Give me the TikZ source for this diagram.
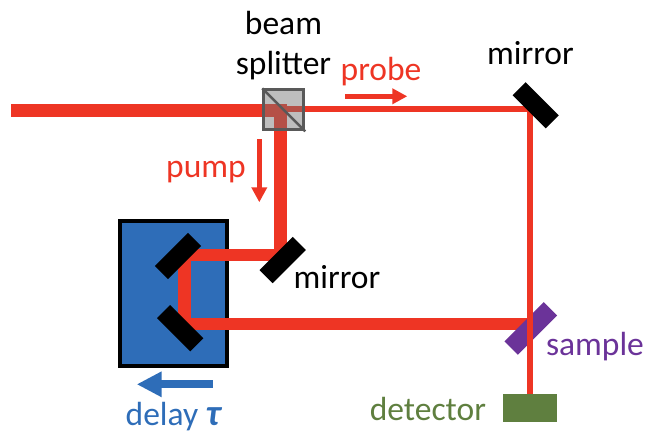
\documentclass[tikz,border=0pt]{standalone}
\usepackage{fontspec}
\setmainfont{Carlito}
\usetikzlibrary{arrows.meta,positioning}
\definecolor{beamred}{HTML}{EE3524}
\definecolor{stageblue}{HTML}{2E6DB8}
\definecolor{samplepurple}{HTML}{6B3399}
\definecolor{detgreen}{HTML}{5F7F3F}
\definecolor{cubegray}{HTML}{727272}
\definecolor{cubeedge}{HTML}{595959}
\tikzset{
  mirrorbox/.style={
    rectangle, fill=#1, inner sep=0pt,
    minimum width=47pt, minimum height=18.5pt
  },
  mirrorbox/.default=black,
  thickbeam/.style={draw=beamred, line width=12.5pt, line join=miter},
  thinbeam/.style={draw=beamred, line width=5.3pt, line join=miter},
  flowarrow/.style={
    -{Triangle[length=15pt,width=15pt]}, line width=4.8pt, color=#1
  },
  flowarrow/.default=beamred,
  labelnode/.style={font=\fontsize{33.5}{40}\selectfont, anchor=base, inner sep=0pt, color=#1},
  labelnode/.default=black,
}
\begin{document}
\begin{tikzpicture}[x=1pt,y=-1pt]
  \useasboundingbox (0,0) rectangle (646,433);

  % Delay stage
  \node[rectangle, draw=black, fill=stageblue, line width=4pt, minimum width=107pt,
        minimum height=145pt, inner sep=0pt] (stage) at (173.8,293.6) {};

  % Beam corners
  \coordinate (laser) at (11,110.5);
  \coordinate (split) at (280.5,110.5);
  \coordinate (turn1) at (280.5,255);
  \coordinate (turn2) at (184.5,255);
  \coordinate (turn3) at (184.5,324);
  \coordinate (hit) at (530,324);
  \coordinate (splitthin) at (280.5,109);
  \coordinate (corner) at (530,109);

  % Pump
  \draw[thickbeam] (laser) -- (split) -- (turn1) -- (turn2) -- (turn3) -- (hit);

  \node[mirrorbox, rotate=45] (mirrorpump) at (282.7,260) {};
  \node[mirrorbox, rotate=45] (mirrorup) at (178,256) {};
  \node[mirrorbox, rotate=-45] (mirrorlow) at (180.2,328.2) {};
  \node[mirrorbox=samplepurple, rotate=45, minimum width=55.5pt, minimum height=19pt] (sample) at (530.8,328.5) {};
  \node[rectangle, fill=detgreen, inner sep=0pt, minimum width=54pt, minimum height=28pt] (det) at (530.3,408.3) {};

  % Probe
  \draw[thinbeam] (splitthin) -- (corner) -- (det.north -| corner);
  \node[mirrorbox, rotate=-45] (mirrorprobe) at (535.7,105.3) {};

  % Beam splitter
  \node[rectangle, draw=cubeedge, fill=cubegray, fill opacity=0.46, draw opacity=1,
        line width=3pt, minimum size=40pt, inner sep=0pt] (cube) at (283.7,109.8) {};
  \draw[cubeedge, line width=2.5pt] (cube.north west) -- (cube.south east);

  % Arrows
  \coordinate (probestart) at (345,96.3);
  \coordinate (probeend) at (407.3,96.3);
  \coordinate (pumpstart) at (259.3,139.3);
  \coordinate (pumpend) at (259.3,202.3);
  \coordinate (delaystart) at (212.7,384.3);
  \coordinate (delayend) at (136.7,384.3);
  \draw[flowarrow] (probestart) -- (probeend);
  \draw[flowarrow] (pumpstart) -- (pumpend);
  \draw[-{Triangle[length=25pt,width=24pt]}, line width=8pt, stageblue] (delaystart) -- (delayend);

  % Labels
  \node[labelnode] (lbeam) at (283.5,35) {beam};
  \node[labelnode] (lsplit) at (283.5,75) {splitter};
  \node[labelnode] (lmirror1) at (530.5,65) {mirror};
  \node[labelnode] (lmirror2) at (337,288) {mirror};
  \node[labelnode=beamred] (lprobe) at (381,81) {probe};
  \node[labelnode=beamred] (lpump) at (206,178) {pump};
  \node[labelnode=samplepurple] (lsample) at (595,355) {sample};
  \node[labelnode=detgreen, left=17pt of det.west, anchor=east, yshift=-1pt] (ldet) {detector};
  \node[labelnode=stageblue, anchor=base west] (ldelay) at (125.5,425) {delay \textbf{\textit{\fontsize{37}{40}\selectfont τ}}};
\end{tikzpicture}
\end{document}
